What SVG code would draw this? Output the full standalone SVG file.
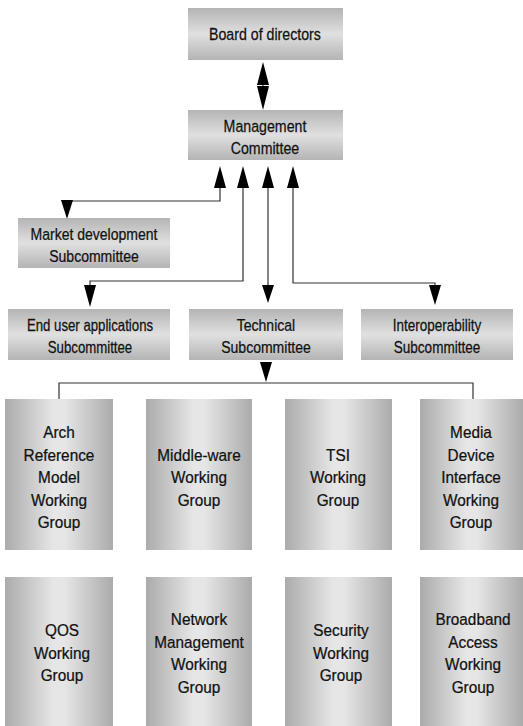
<svg xmlns="http://www.w3.org/2000/svg" width="523" height="726" viewBox="0 0 523 726">
<style>
  text { font-family: "Liberation Sans", Arial, sans-serif; font-size: 16.5px; fill: #111; stroke: #111; stroke-width: 0.25; text-anchor: middle; }
  .hbox { fill: url(#gv); }
  .vbox { fill: url(#gh); }
  .ln { stroke: #333; stroke-width: 1.2; fill: none; }
  .ah { fill: #000; }
</style>
<defs>
  <linearGradient id="gv" x1="0" y1="0" x2="0" y2="1">
    <stop offset="0" stop-color="#b4b4b4"/>
    <stop offset="0.5" stop-color="#e0e0e0"/>
    <stop offset="1" stop-color="#b4b4b4"/>
  </linearGradient>
  <linearGradient id="gh" x1="0" y1="0" x2="1" y2="0">
    <stop offset="0" stop-color="#ababab"/>
    <stop offset="0.45" stop-color="#e6e6e6"/>
    <stop offset="0.55" stop-color="#e6e6e6"/>
    <stop offset="1" stop-color="#ababab"/>
  </linearGradient>
</defs>

<g id="connectors">
  <line class="ln" x1="263" y1="80" x2="263" y2="90"/>
  <polygon class="ah" points="263,62 257,85 269,85"/>
  <polygon class="ah" points="263,110 257,86 269,86"/>
  <polyline class="ln" points="220,188 220,201 67,201 67,205"/>
  <polygon class="ah" points="220,166 214,188 226,188"/>
  <polygon class="ah" points="67,219 61,200 73,200"/>
  <polyline class="ln" points="243,188 243,281 90,281 90,288"/>
  <polygon class="ah" points="243,166 237,188 249,188"/>
  <polygon class="ah" points="90,307 84,285 96,285"/>
  <line class="ln" x1="268" y1="188" x2="268" y2="285"/>
  <polygon class="ah" points="268,166 262,188 274,188"/>
  <polygon class="ah" points="268,303 262,285 274,285"/>
  <polyline class="ln" points="293,188 293,283 435,283 435,288"/>
  <polygon class="ah" points="293,166 287,188 299,188"/>
  <polygon class="ah" points="435,305 429,285 441,285"/>
  <polygon class="ah" points="266,382 260,362 272,362"/>
  <polyline class="ln" points="59,399 59,383 473,383 473,400"/>
</g>

<g id="board">
  <rect class="hbox" x="188" y="8" width="155" height="52"/>
  <g transform="matrix(0.86,0,0,1,37.1,0)">
    <text x="265" y="40">Board of directors</text>
  </g>
</g>
<g id="management">
  <rect class="hbox" x="188" y="110" width="155" height="50"/>
  <g transform="matrix(0.86,0,0,1,37.1,0)">
    <text x="265" y="132">Management</text>
    <text x="265" y="154">Committee</text>
  </g>
</g>
<g id="market">
  <rect class="hbox" x="18" y="218" width="152" height="50"/>
  <g transform="matrix(0.85,0,0,1,14.1,0)">
    <text x="94" y="240">Market development</text>
    <text x="94" y="262">Subcommittee</text>
  </g>
</g>
<g id="enduser">
  <rect class="hbox" x="8" y="309" width="162" height="51"/>
  <g transform="matrix(0.8,0,0,1,18,0)">
    <text x="90" y="331">End user applications</text>
    <text x="90" y="353">Subcommittee</text>
  </g>
</g>
<g id="technical">
  <rect class="hbox" x="189" y="309" width="154" height="51"/>
  <g transform="matrix(0.85,0,0,1,39.9,0)">
    <text x="266" y="331">Technical</text>
    <text x="266" y="353">Subcommittee</text>
  </g>
</g>
<g id="interop">
  <rect class="hbox" x="361" y="309" width="152" height="51"/>
  <g transform="matrix(0.82,0,0,1,78.66,0)">
    <text x="437" y="331">Interoperability</text>
    <text x="437" y="353">Subcommittee</text>
  </g>
</g>

<g id="arch">
  <rect class="vbox" x="5" y="399" width="108" height="151"/>
  <g transform="matrix(0.93,0,0,1,4.13,0)">
    <text x="59" y="438">Arch</text>
    <text x="59" y="461">Reference</text>
    <text x="59" y="483">Model</text>
    <text x="59" y="506">Working</text>
    <text x="59" y="528">Group</text>
  </g>
</g>
<g id="middleware">
  <rect class="vbox" x="146" y="399" width="106" height="151"/>
  <g transform="matrix(0.93,0,0,1,13.93,0)">
    <text x="199" y="461">Middle-ware</text>
    <text x="199" y="483">Working</text>
    <text x="199" y="506">Group</text>
  </g>
</g>
<g id="tsi">
  <rect class="vbox" x="285" y="399" width="107" height="151"/>
  <g transform="matrix(0.93,0,0,1,23.66,0)">
    <text x="338" y="461">TSI</text>
    <text x="338" y="483">Working</text>
    <text x="338" y="506">Group</text>
  </g>
</g>
<g id="media">
  <rect class="vbox" x="420" y="399" width="103" height="151"/>
  <g transform="matrix(0.93,0,0,1,32.97,0)">
    <text x="471" y="438">Media</text>
    <text x="471" y="461">Device</text>
    <text x="471" y="483">Interface</text>
    <text x="471" y="506">Working</text>
    <text x="471" y="528">Group</text>
  </g>
</g>

<g id="qos">
  <rect class="vbox" x="5" y="577" width="108" height="149"/>
  <g transform="matrix(0.93,0,0,1,4.34,0)">
    <text x="62" y="636">QOS</text>
    <text x="62" y="659">Working</text>
    <text x="62" y="681">Group</text>
  </g>
</g>
<g id="netmgmt">
  <rect class="vbox" x="146" y="577" width="106" height="149"/>
  <g transform="matrix(0.93,0,0,1,13.93,0)">
    <text x="199" y="625">Network</text>
    <text x="199" y="648">Management</text>
    <text x="199" y="670">Working</text>
    <text x="199" y="693">Group</text>
  </g>
</g>
<g id="security">
  <rect class="vbox" x="285" y="577" width="107" height="149"/>
  <g transform="matrix(0.93,0,0,1,23.87,0)">
    <text x="341" y="636">Security</text>
    <text x="341" y="659">Working</text>
    <text x="341" y="681">Group</text>
  </g>
</g>
<g id="broadband">
  <rect class="vbox" x="420" y="577" width="103" height="149"/>
  <g transform="matrix(0.93,0,0,1,33.11,0)">
    <text x="473" y="625">Broadband</text>
    <text x="473" y="648">Access</text>
    <text x="473" y="670">Working</text>
    <text x="473" y="693">Group</text>
  </g>
</g>
</svg>
